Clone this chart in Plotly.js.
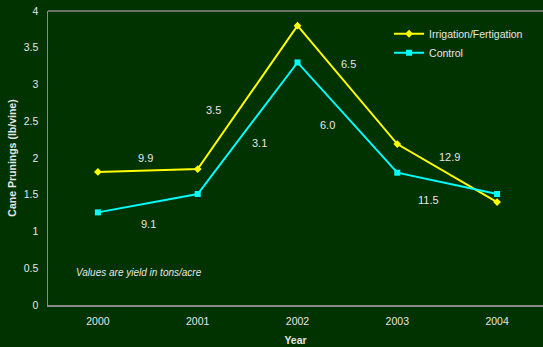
<!DOCTYPE html>
<html>
<head>
<meta charset="utf-8">
<script src="https://cdn.plot.ly/plotly-3.0.1.min.js"></script>
<style>
html,body{margin:0;padding:0;background:#003300;}
#chart{width:543px;height:347px;}
</style>
</head>
<body>
<div id="chart"></div>
<script>
var years = ['2000', '2001', '2002', '2003', '2004'];
var irrigation = [1.81, 1.85, 3.80, 2.19, 1.40];
var control = [1.26, 1.51, 3.30, 1.80, 1.51];
var yieldLabels = ['9.9', '9.1', '3.5', '3.1', '6.5', '6.0', '12.9', '11.5'];
var yieldLabelX = [0.48, 0.51, 1.16, 1.62, 2.51, 2.30, 3.52, 3.31];
var yieldLabelY = [2.00, 1.10, 2.65, 2.20, 3.28, 2.45, 2.02, 1.43];
var noteText = 'Values are yield in tons/acre';

var textColor = '#e6e6e6';
var traces = [
  {x: years, y: irrigation, name: 'Irrigation/Fertigation', type: 'scatter', mode: 'lines+markers',
   line: {color: '#ffff00', width: 2}, marker: {symbol: 'diamond', size: 6, color: '#ffff00'}},
  {x: years, y: control, name: 'Control', type: 'scatter', mode: 'lines+markers',
   line: {color: '#00ffff', width: 2}, marker: {symbol: 'square', size: 6, color: '#00ffff'}}
];

var annotations = yieldLabels.map(function(t, i){
  return {x: yieldLabelX[i], y: yieldLabelY[i], xref: 'x', yref: 'y', text: t, showarrow: false,
          font: {family: 'Liberation Sans, Arial, sans-serif', size: 11, color: textColor}};
});
annotations.push({x: 0.41, y: 0.44, xref: 'x', yref: 'y', text: '<i>' + noteText + '</i>', showarrow: false,
  font: {family: 'Liberation Sans, Arial, sans-serif', size: 10, color: textColor}});

var layout = {
  width: 543, height: 347,
  paper_bgcolor: '#003300', plot_bgcolor: '#003300',
  margin: {l: 48, r: 0, t: 11, b: 42},
  font: {family: 'Liberation Sans, Arial, sans-serif', size: 10.5, color: textColor},
  showlegend: true,
  legend: {x: 0.689, y: 0.972, xanchor: 'left', yanchor: 'top', bgcolor: 'rgba(0,0,0,0)',
           tracegroupgap: 0, font: {size: 10.5, color: textColor}},
  xaxis: {type: 'category', range: [-0.5, 4.46], showgrid: false, zeroline: false,
          showline: true, linecolor: '#8a8a8a', linewidth: 1.5, ticks: '', ticklabelstandoff: 6,
          title: {text: '<b>Year</b>', standoff: 10, font: {size: 10.5, color: textColor}}},
  yaxis: {range: [0, 4], dtick: 0.5, showgrid: false, zeroline: false,
          showline: true, linecolor: '#8a8a8a', linewidth: 1.5, ticks: '', ticklabelstandoff: 6,
          title: {text: '<b>Cane Prunings (lb/vine)</b>', standoff: 5, font: {size: 10.5, color: textColor}}},
  shapes: [{type: 'line', xref: 'paper', yref: 'paper', x0: 0, x1: 1, y0: 1, y1: 1,
            line: {color: '#8a8a8a', width: 1.5}}],
  annotations: annotations
};

Plotly.newPlot('chart', traces, layout, {displayModeBar: false, staticPlot: true});
</script>
</body>
</html>
